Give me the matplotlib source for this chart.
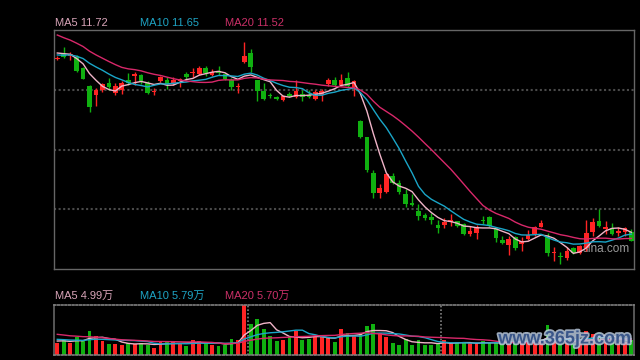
import numpy as np
import pandas as pd
import matplotlib
matplotlib.use('Agg')
import matplotlib.pyplot as plt
import matplotlib.patheffects as pe

# ---------------- data ----------------
opens = [17.52, 17.70, 17.64, 17.61, 17.24, 16.63, 16.31, 16.50, 16.74, 16.39,
         16.50, 16.83, 16.97, 17.00, 16.74, 16.42, 16.78, 16.83, 16.72, 16.78,
         17.03, 17.06, 17.03, 17.24, 17.00, 17.14, 17.03, 16.81, 16.58, 17.44,
         17.72, 16.81, 16.47, 16.33, 16.26, 16.17, 16.36, 16.26, 16.36, 16.33,
         16.19, 16.33, 16.70, 16.81, 16.67, 16.89, 16.59, 15.44, 14.91, 13.70,
         13.03, 13.09, 13.61, 13.39, 13.02, 12.70, 12.44, 12.31, 12.24, 11.98,
         11.98, 12.06, 12.09, 12.00, 11.67, 11.70, 12.13, 12.24, 11.86, 11.48,
         11.31, 11.56, 11.33, 11.50, 11.67, 11.92, 11.59, 11.02, 10.92, 10.87,
         11.19, 11.03, 11.19, 11.74, 12.11, 11.83, 11.87, 11.70, 11.74, 11.74]
highs = [17.63, 17.92, 17.77, 17.65, 17.27, 16.67, 16.56, 16.74, 16.89, 16.72,
         16.78, 17.06, 17.08, 17.03, 16.78, 16.56, 16.97, 16.92, 16.94, 16.91,
         17.08, 17.22, 17.31, 17.28, 17.19, 17.28, 17.07, 16.89, 16.74, 18.09,
         17.87, 16.83, 16.74, 16.39, 16.28, 16.33, 16.41, 16.83, 16.50, 16.50,
         16.50, 16.52, 16.89, 16.94, 17.03, 17.11, 16.83, 15.48, 14.93, 13.80,
         13.36, 13.72, 13.72, 13.47, 13.17, 13.00, 12.69, 12.36, 12.36, 12.13,
         12.22, 12.33, 12.12, 12.03, 11.94, 11.97, 12.28, 12.28, 11.89, 11.61,
         11.61, 11.61, 11.58, 11.80, 11.94, 12.14, 11.69, 11.24, 11.06, 11.24,
         11.22, 11.30, 12.14, 12.22, 12.50, 12.11, 12.03, 11.89, 11.92, 11.83]
lows = [17.48, 17.57, 17.48, 17.09, 16.85, 15.74, 15.97, 16.44, 16.50, 16.33,
        16.37, 16.67, 16.67, 16.70, 16.37, 16.33, 16.75, 16.52, 16.67, 16.59,
        16.83, 16.92, 17.00, 16.97, 16.97, 17.00, 16.83, 16.50, 16.39, 17.39,
        17.11, 16.11, 16.17, 16.22, 16.17, 16.13, 16.26, 16.22, 16.11, 16.23,
        16.17, 16.11, 16.63, 16.61, 16.61, 16.60, 16.30, 14.87, 13.76, 12.87,
        12.87, 13.04, 13.33, 13.00, 12.58, 12.62, 12.14, 12.14, 12.00, 11.72,
        11.86, 11.94, 11.89, 11.63, 11.59, 11.50, 12.00, 11.89, 11.39, 11.33,
        10.97, 11.14, 11.11, 11.48, 11.61, 11.89, 10.92, 10.78, 10.67, 10.81,
        11.00, 11.00, 11.11, 11.61, 11.89, 11.67, 11.63, 11.61, 11.61, 11.44]
closes = [17.55, 17.59, 17.70, 17.13, 16.87, 15.91, 16.48, 16.69, 16.58, 16.63,
          16.74, 16.72, 17.02, 16.78, 16.39, 16.47, 16.92, 16.69, 16.81, 16.86,
          16.92, 17.11, 17.24, 17.06, 17.11, 17.06, 16.87, 16.58, 16.63, 17.64,
          17.26, 16.47, 16.19, 16.28, 16.19, 16.30, 16.30, 16.47, 16.26, 16.26,
          16.44, 16.47, 16.83, 16.67, 16.81, 16.63, 16.78, 14.91, 13.80, 13.03,
          13.20, 13.67, 13.39, 13.09, 12.67, 12.63, 12.28, 12.22, 12.14, 11.87,
          12.08, 12.13, 11.94, 11.67, 11.78, 11.89, 12.09, 11.94, 11.53, 11.36,
          11.50, 11.20, 11.44, 11.64, 11.89, 12.03, 11.03, 11.06, 10.89, 11.11,
          11.03, 11.26, 11.72, 12.08, 11.94, 11.89, 11.67, 11.78, 11.86, 11.44]
# volume in 万
volumes = [4.4, 5.4, 4.4, 6.3, 5.1, 8.6, 6.8, 5.0, 3.9, 3.9,
           3.6, 4.4, 3.9, 4.4, 3.6, 2.6, 4.8, 4.8, 4.8, 3.8,
           3.2, 5.4, 5.0, 4.2, 3.6, 3.3, 3.6, 5.7, 5.4, 17.9,
           11.1, 12.9, 9.3, 6.8, 5.0, 5.4, 6.5, 8.6, 5.4, 5.7,
           6.8, 6.5, 6.3, 4.8, 9.3, 7.7, 6.9, 7.7, 10.4, 11.1,
           7.7, 6.5, 4.4, 3.6, 5.6, 3.6, 5.4, 3.6, 3.6, 4.2,
           5.4, 4.2, 4.2, 4.2, 4.2, 4.2, 5.0, 4.2, 4.2, 4.2,
           5.6, 4.8, 4.8, 5.0, 5.2, 5.2, 10.8, 4.6, 4.4, 5.2,
           3.9, 5.0, 8.6, 7.5, 8.0, 5.5, 4.8, 4.8, 4.5, 5.3]
# sessions before the visible window (needed for the moving averages)
prior_closes = [19.4, 19.3, 19.2, 19.1, 19.05, 18.95, 18.9, 18.8, 18.7, 18.6,
                17.7, 17.55, 17.6, 17.65, 17.5, 17.7, 17.8, 17.85, 17.75]
prior_volumes = [10.5, 9.8, 9.0, 8.6, 9.4, 10.0, 8.8, 8.5, 9.2, 8.2,
                 6.5, 5.8, 6.6, 6.0, 6.1, 5.0, 5.4, 5.2, 5.0]
ma_periods = [5, 10, 20]
price_labels = ['MA5 11.72', 'MA10 11.65', 'MA20 11.52']
volume_labels = ['MA5 4.99万', 'MA10 5.79万', 'MA20 5.70万']
month_starts = [30, 60]

# ---------------- style ----------------
RED = '#ff2424'
GREEN = '#10b010'
MA_COLORS = ['#f0b4c8', '#1aa6c8', '#d8286a']
TEXT_COLORS = ['#d8a4b8', '#1ea4c4', '#cc3068']
FRAME = '#666666'
GRID = '#4a4a4a'
FONT = ['Liberation Sans', 'Noto Sans CJK SC', 'DejaVu Sans']

fig = plt.figure(figsize=(6.4, 3.6), dpi=100, facecolor='black')
ax = fig.add_axes([54 / 640, 91 / 360, 580 / 640, 239 / 360], facecolor='black')
axv = fig.add_axes([54 / 640, 5 / 360, 580 / 640, 50 / 360], facecolor='black')

n = len(closes)
x = np.arange(n)
o = np.array(opens); c = np.array(closes)
h = np.array(highs); l = np.array(lows)
up = c >= o
cols = np.where(up, RED, GREEN)

# price panel
for g in (12.5, 14.5, 16.5):
    ax.axhline(g, color=GRID, lw=1.5, ls=(0, (1, 1.2)), zorder=1)
ax.text(0.911, 0.082, 'sina.com', color='#9a9a9a', fontsize=8.5, family=FONT,
        va='center', ha='left', transform=ax.transAxes, zorder=1)
ax.vlines(x, l, h, colors=cols, lw=1, zorder=2)
ax.bar(x, np.maximum(np.abs(c - o), 0.03), bottom=np.minimum(o, c),
       width=0.72, color=cols, linewidth=0, zorder=3)

all_c = pd.Series(prior_closes + closes)
for p, col in zip(ma_periods, MA_COLORS):
    ma = all_c.rolling(p).mean().to_numpy()[len(prior_closes):]
    ax.plot(x, ma, color=col, lw=1, zorder=4)

ax.set_xlim(-0.51, 89.41)
ax.set_ylim(10.5, 18.5)
ax.set_xticks([]); ax.set_yticks([])
for s in ax.spines.values():
    s.set_color(FRAME); s.set_linewidth(1)

# volume panel
v = np.array(volumes)
axv.bar(x, v, width=0.6, color=cols, linewidth=0, zorder=2)
all_v = pd.Series(prior_volumes + volumes)
for p, col in zip(ma_periods, MA_COLORS):
    ma = all_v.rolling(p).mean().to_numpy()[len(prior_volumes):]
    axv.plot(x, ma, color=col, lw=1, zorder=3)
for m in month_starts:
    axv.axvline(m - 0.5, color='#808080', lw=1.2, ls=(0, (1, 1.2)), zorder=1)
axv.set_xlim(-0.51, 89.41)
axv.set_ylim(0, 17.9)
axv.set_xticks([]); axv.set_yticks([])
for name, s in axv.spines.items():
    s.set_color('#808080'); s.set_linewidth(1.2)
    if name in ('top', 'bottom'):
        s.set_linestyle((0, (1, 1.2)))
axv.spines['left'].set_color(FRAME)
axv.spines['right'].set_color(FRAME)

axv.text(0.995, 0.32, 'www.365jz.com', transform=axv.transAxes, ha='right',
         va='center', fontsize=13, fontweight='bold', color='#28467e',
         family=FONT, alpha=0.85, zorder=5,
         path_effects=[pe.withStroke(linewidth=2.5, foreground='#b8c8dc')])

# legend texts
for xp, txt, col in zip((55, 140, 225), price_labels, TEXT_COLORS):
    fig.text(xp / 640, 1 - 23.5 / 360, txt, color=col, fontsize=8,
             family=FONT, va='center', ha='left')
for xp, txt, col in zip((55, 140, 225), volume_labels, TEXT_COLORS):
    fig.text(xp / 640, 1 - 295.5 / 360, txt, color=col, fontsize=8,
             family=FONT, va='center', ha='left')

fig.savefig('out.png', dpi=100, facecolor='black')
